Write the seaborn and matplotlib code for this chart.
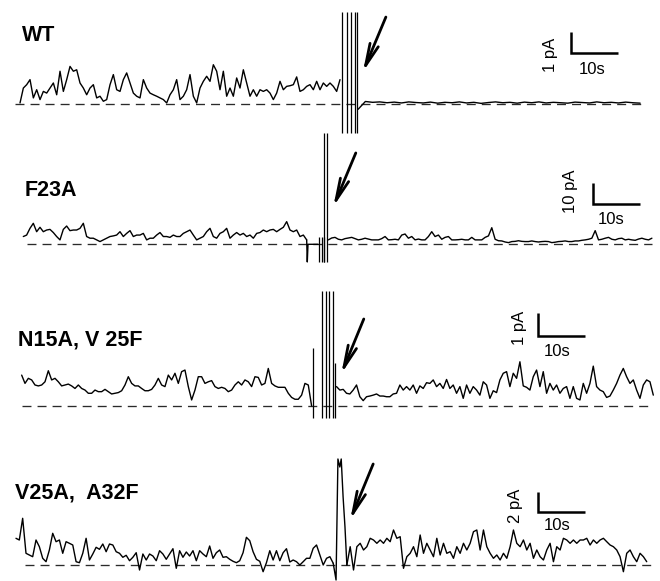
import numpy as np
import pandas as pd
import matplotlib
matplotlib.use("Agg")
import matplotlib.pyplot as plt
import seaborn as sns

sns.set_style("white")
plt.rcParams['font.family'] = ['Liberation Sans', 'DejaVu Sans']
plt.rcParams['text.color'] = 'black'

# ---------------- data (time in s, current in pA) ----------------
panel_names = ["WT", "F23A", "N15A, V 25F", "V25A,  A32F"]
scale_pA = [1, 10, 1, 2]
scale_labels = ["1 pA", "10 pA", "1 pA", "2 pA"]
scale_s = 10

# WT
wt_pre_span = (4.26, 72.34)
wt_pre = [0.05, 0.76, 0.92, 1.16, 0.29, 0.68, 0.21, 0.60, 0.52, 0.76, 1.00, 0.44, 1.56, 0.60,
          1.16, 1.79, 1.56, 1.63, 1.00, 0.76, 0.44, 0.76, 0.92, 0.29, 0.37, 0.13, 0.21, 0.92,
          1.40, 0.68, 0.60, 1.16, 1.48, 1.00, 0.52, 0.37, 0.29, 1.16, 0.76, 0.52, 0.44, 0.37,
          0.29, 0.21, 0.05, 0.44, 0.68, 1.16, 0.21, 0.37, 0.68, 1.40, 0.37, 0.05, 0.76, 1.08,
          1.32, 1.08, 1.87, 1.56, 0.68, 1.56, 0.37, 0.76, 0.37, 1.24, 0.76, 1.63, 1.00, 0.37,
          0.68, 0.37, 0.68, 0.60, 0.68, 0.52, 0.21, 0.52, 1.08, 0.68, 0.84, 0.87, 0.92, 1.29,
          0.60, 0.68, 0.84, 0.92, 0.68, 1.08, 0.68, 1.00, 0.84, 1.00, 0.84, 0.60, 1.16]
wt_art_t = [72.8, 73.8, 74.7, 75.5, 76.0]
wt_art_range = (-1.38, 4.38)
wt_post_span = (76.2, 136.2)
wt_post = [-0.25, 0.12, 0.08, 0.10, 0.06, 0.09, 0.05, 0.10, 0.07, 0.05, 0.09, 0.04, 0.08, 0.06,
           0.10, 0.05, 0.08, 0.03, 0.07, 0.10, 0.06, 0.08, 0.04, 0.09, 0.06, 0.10, 0.05, 0.08,
           0.06, 0.04, 0.09, 0.07, 0.05, 0.10, 0.06, 0.08, 0.05, 0.09, 0.06, 0.04]

# F23A
f23_pre_span = (4.96, 65.25)
f23_pre = [3.7, 4.4, 7.6, 10.0, 6.0, 8.1, 6.0, 6.8, 7.1, 5.6, 3.7, 2.1, 7.1, 8.7, 6.5, 6.8,
           6.8, 7.6, 10.0, 3.7, 2.9, 2.9, 2.1, 1.3, 2.1, 2.9, 3.7, 4.0, 4.4, 6.0, 3.7, 5.2,
           6.5, 3.7, 4.4, 4.4, 5.2, 2.1, 2.9, 2.9, 4.4, 5.6, 3.7, 3.7, 3.3, 4.4, 3.7, 3.7,
           5.2, 6.0, 6.8, 4.4, 2.1, 2.9, 3.7, 6.0, 7.6, 3.7, 2.9, 5.2, 6.0, 7.6, 2.9, 4.4,
           5.6, 4.4, 5.2, 3.7, 4.4, 2.9, 5.2, 5.6, 6.8, 6.0, 6.8, 7.1, 6.0, 7.1, 8.1, 10.8,
           6.8, 6.0, 6.8, 3.7, 4.4, 2.1]
f23_art_t = [65.25, 65.38, 65.53, 67.66]
f23_art_i = [2.1, -8.4, 0.0, 0.0]
f23_short_t = [67.9, 68.45, 68.95]
f23_short_range = (-8.4, 3.6)
f23_tall_t = [69.0, 69.55]
f23_tall_range = (-8.4, 53.0)
f23_post_span = (69.86, 138.7)
f23_post = [2.1, 3.0, 3.3, 2.4, 2.1, 2.7, 3.0, 3.3, 2.7, 2.1, 2.4, 2.9, 2.5, 2.1, 2.1, 2.1,
            2.7, 3.7, 2.1, 2.2, 2.4, 2.1, 4.4, 4.9, 2.9, 3.7, 2.1, 2.5, 2.1, 2.1, 3.7, 6.0,
            3.7, 4.4, 2.4, 3.3, 3.7, 2.1, 2.1, 2.2, 2.4, 2.1, 2.1, 3.3, 2.1, 2.1, 2.1, 3.3,
            4.0, 7.9, 2.4, 1.7, 1.6, 1.1, 0.8, 1.3, 1.4, 1.7, 1.4, 1.3, 1.3, 1.6, 1.3, 1.1,
            1.3, 1.4, 1.3, 0.8, 1.0, 1.3, 1.4, 1.6, 1.3, 1.3, 1.6, 1.6, 1.9, 2.1, 2.4, 2.9,
            6.5, 2.1, 2.4, 2.9, 3.3, 2.4, 2.1, 2.7, 2.9, 2.1, 2.4, 2.1, 1.9, 2.5, 2.9, 2.4,
            2.1, 2.9]

# N15A, V25F
n15_pre_span = (4.61, 66.3)
n15_pre = [1.33, 0.97, 1.19, 1.12, 0.90, 0.86, 0.90, 1.04, 1.52, 1.12, 1.19, 1.04, 0.86, 0.90,
           0.94, 0.86, 0.75, 0.90, 0.75, 0.68, 0.54, 0.54, 0.68, 0.61, 0.61, 0.71, 0.61, 0.51,
           0.54, 0.57, 0.65, 0.90, 1.26, 0.97, 0.86, 0.86, 0.75, 0.65, 0.65, 0.71, 0.90, 1.19,
           0.90, 0.83, 1.33, 1.12, 1.41, 0.97, 1.48, 1.55, 0.83, 0.25, 0.68, 1.26, 1.26, 0.97,
           1.04, 1.09, 0.83, 0.75, 0.80, 0.75, 0.61, 0.68, 0.90, 1.04, 0.90, 1.12, 1.04, 0.83,
           1.26, 1.23, 0.90, 0.97, 1.62, 0.97, 0.86, 0.80, 0.80, 0.80, 0.54, 0.36, 0.28, 0.28,
           0.46, 0.97, 0.90, -0.01]
n15_spike_t = [66.5]
n15_spike_range = (-0.55, 2.5)
n15_tall_t = [68.5, 69.4, 70.1, 70.9]
n15_tall_range = (-0.55, 5.0)
n15_short_t = [71.3]
n15_short_range = (-0.55, 1.87)
n15_post_span = (71.6, 139.0)
n15_post = [0.83, 0.68, 0.71, 0.54, 0.51, 0.68, 0.90, 0.39, 0.22, 0.39, 0.42, 0.46, 0.51, 0.42,
            0.42, 0.39, 0.39, 0.51, 0.54, 0.90, 0.68, 0.83, 0.68, 0.90, 0.54, 0.86, 0.75, 1.00,
            0.97, 1.12, 0.83, 0.97, 0.75, 1.14, 0.75, 0.90, 0.54, 0.83, 0.32, 0.90, 0.54, 0.83,
            0.68, 0.46, 1.04, 0.90, 0.32, 0.65, 0.57, 1.12, 1.41, 1.48, 0.83, 1.41, 1.19, 1.91,
            0.86, 0.80, 0.68, 1.26, 1.55, 0.83, 1.48, 0.54, 0.97, 0.68, 0.90, 0.54, 0.75, 0.83,
            0.32, 0.83, 0.32, 0.25, 0.97, 0.54, 0.97, 1.72, 0.83, 0.68, 0.61, 0.36, 0.42, 0.68,
            0.97, 1.33, 1.62, 1.26, 0.97, 1.12, 0.68, 0.32, 0.90, 1.12, 1.04, 0.46]

# V25A, A32F
v25_pre_span = (3.40, 70.9)
v25_pre = [2.67, 2.50, 4.67, 1.17, 1.00, 0.83, 2.50, 1.83, 0.67, 0.33, 1.50, 3.17, 2.33, 2.50,
           1.17, 2.33, 2.17, 2.00, 0.33, 0.23, 1.17, 2.67, 0.50, 1.10, 1.77, 1.57, 2.10, 1.33,
           2.10, 2.00, 1.33, 1.17, 0.77, 0.97, 0.43, 0.77, 1.23, -0.50, 1.10, 0.50, 1.10, 0.90,
           0.43, 1.43, 1.10, 0.57, 1.10, 1.63, -0.33, 1.43, 0.77, 1.30, 0.90, 1.43, 0.43, 1.43,
           1.10, 0.83, 1.90, 0.67, 1.23, 1.50, 0.77, 0.83, 0.57, 0.37, 0.23, 0.43, 1.23, 2.77,
           2.43, 1.33, 0.57, 0.37, -0.67, 0.23, 1.43, 0.50, 1.43, 0.43, 1.23, 1.63, 0.30, 0.50,
           0.33, 0.00, 0.33, 0.67, 0.67, 1.67, 2.00, 1.00, 0.00, 0.67, 0.83, 0.17]
v25_art_t = [70.9, 71.5, 71.9, 72.3, 72.6, 73.0, 73.4, 73.8]
v25_art_i = [0.17, -1.5, 10.6, 9.8, 10.6, 6.8, 3.8, 0.0]
v25_post_span = (73.8, 137.6)
v25_post = [0.00, 1.83, -0.50, 1.83, 2.17, 1.50, 1.83, 2.67, 2.50, 2.17, 2.50, 2.17, 2.67, 2.33,
            3.50, 2.67, 2.83, -0.33, 0.83, 1.17, 1.83, 0.83, 3.00, 1.17, 2.17, 1.50, 0.83, 2.67,
            1.00, 2.17, 1.17, 1.33, 0.67, 1.83, 1.17, 2.17, 1.50, 2.17, 3.33, 3.50, 1.50, 3.50,
            1.83, 1.17, 0.67, 1.00, 0.50, 1.17, 0.67, 1.83, 3.50, 2.17, 1.83, 2.50, 1.50, 2.17,
            0.67, 1.50, 0.83, 0.50, 1.50, 2.17, 0.33, 1.83, 1.50, 2.67, 2.50, 2.17, 2.50, 2.17,
            2.50, 2.50, 2.67, 2.00, 2.50, 2.17, 2.50, 2.67, 2.33, 2.00, 1.83, 1.50, 0.83, -0.67,
            1.17, 1.50, 0.83, 0.33, 1.17, 0.83, 0.33]

# ---------------- layout ----------------
W, H = 660, 581
PX_PER_S = 4.7
fig = plt.figure(figsize=(W / 100, H / 100), dpi=100)

def make_ax(ytop, ybot, base, px_per_unit):
    ax = fig.add_axes([0, 1 - ybot / H, 1, (ybot - ytop) / H])
    ax.set_xlim(0, W / PX_PER_S)
    ax.set_ylim(-(ybot - base) / px_per_unit, (base - ytop) / px_per_unit)
    ax.axis("off")
    return ax

axes = [make_ax(0, 140, 104, 21), make_ax(140, 280, 244.3, 2.1),
        make_ax(280, 430, 405.7, 23), make_ax(430, 581, 565, 10)]

def trace(ax, span, vals, lw=1.0):
    df = pd.DataFrame({"t": np.linspace(span[0], span[1], len(vals)), "i": vals})
    sns.lineplot(data=df, x="t", y="i", ax=ax, color="black", linewidth=lw,
                 estimator=None, sort=False, legend=False)

def trace_xy(ax, t, vals, lw=1.0):
    df = pd.DataFrame({"t": t, "i": vals})
    sns.lineplot(data=df, x="t", y="i", ax=ax, color="black", linewidth=lw,
                 estimator=None, sort=False, legend=False)

def baseline(ax, x0, x1):
    ax.plot([x0, x1], [0, 0], color="#2a2a2a", lw=0.95, dashes=(6.8, 4.6), zorder=1)

def scalebar(ax, x0, y0, ylen, label, lx, ly, sx, sy):
    ax.plot([x0, x0, x0 + scale_s], [y0 + ylen, y0, y0], color="black", lw=1.8,
            solid_capstyle="butt", solid_joinstyle="miter", clip_on=False)
    ax.text(lx, ly, label, rotation=90, ha="center", va="center", fontsize=12, color="black")
    ax.text(sx, sy, f"{scale_s}s", ha="center", va="center", fontsize=12, color="black")

def arrow(ax, tail, head):
    ax.annotate("", xy=head, xytext=tail,
                arrowprops=dict(arrowstyle="->, head_length=1.6, head_width=0.32",
                                lw=2.0, color="black", shrinkA=0, shrinkB=0),
                annotation_clip=False)

label_kw = dict(fontsize=15.5, fontweight="bold", ha="left", va="center", color="black")
art_lw = 0.9

# WT
ax = axes[0]
baseline(ax, 15 / PX_PER_S, 643 / PX_PER_S)
trace(ax, wt_pre_span, wt_pre)
ax.vlines(wt_art_t, *wt_art_range, color="black", lw=art_lw, clip_on=False)
trace(ax, wt_post_span, wt_post)
ax.text(4.68, 3.26, panel_names[0], **label_kw)
scalebar(ax, 121.4, 2.44, scale_pA[0], scale_labels[0], 117.2, 2.32, 125.9, 1.63)
arrow(ax, (82.1, 4.14), (77.2, 1.52))

# F23A
ax = axes[1]
baseline(ax, 27 / PX_PER_S, 652 / PX_PER_S)
trace(ax, f23_pre_span, f23_pre)
trace_xy(ax, f23_art_t, f23_art_i)
ax.vlines(f23_short_t, *f23_short_range, color="black", lw=art_lw)
ax.vlines(f23_tall_t, *f23_tall_range, color="black", lw=art_lw, clip_on=False)
trace(ax, f23_post_span, f23_post)
ax.text(5.3, 25.5, panel_names[1], **label_kw)
scalebar(ax, 126.2, 19.2, scale_pA[1], scale_labels[1], 121.4, 25.1, 130.0, 11.6)
arrow(ax, (75.7, 43.5), (70.9, 17.8))

# N15A, V25F
ax = axes[2]
baseline(ax, 22 / PX_PER_S, 648 / PX_PER_S)
trace(ax, n15_pre_span, n15_pre)
ax.vlines(n15_spike_t, *n15_spike_range, color="black", lw=art_lw)
ax.vlines(n15_tall_t, *n15_tall_range, color="black", lw=art_lw)
ax.vlines(n15_short_t, *n15_short_range, color="black", lw=art_lw)
trace(ax, n15_post_span, n15_post)
ax.text(3.83, 2.86, panel_names[2], **label_kw)
scalebar(ax, 114.4, 3.04, scale_pA[2], scale_labels[2], 110.5, 3.38, 118.6, 2.35)
arrow(ax, (77.4, 3.77), (72.6, 1.38))

# V25A, A32F
ax = axes[3]
baseline(ax, 25 / PX_PER_S, 652 / PX_PER_S)
trace(ax, v25_pre_span, v25_pre)
trace_xy(ax, v25_art_t, v25_art_i)
trace(ax, v25_post_span, v25_post)
ax.text(3.19, 7.23, panel_names[3], **label_kw)
scalebar(ax, 114.4, 5.27, scale_pA[3], scale_labels[3], 109.7, 5.92, 118.6, 3.9)
arrow(ax, (79.4, 10.1), (74.5, 4.5))

fig.savefig("out.png", dpi=100, facecolor="white")
